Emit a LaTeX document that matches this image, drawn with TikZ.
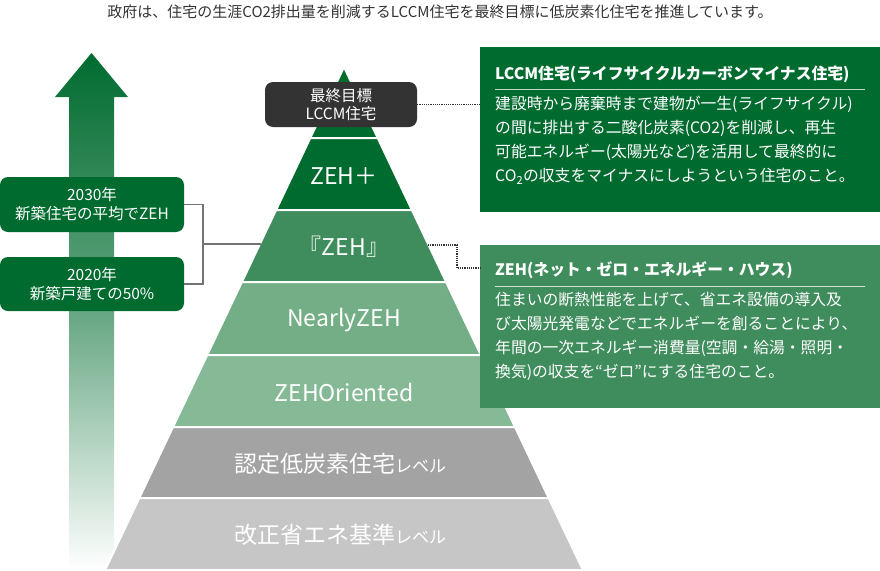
\documentclass[tikz,border=0pt]{standalone}
\usepackage{fontspec}
\setmainfont{Noto Sans CJK JP}
\begin{document}
\definecolor{dg}{HTML}{006B2F}
\definecolor{mg}{HTML}{3F8C5C}
\definecolor{lg1}{HTML}{74AE86}
\definecolor{lg2}{HTML}{86B995}
\definecolor{g1}{HTML}{A3A3A3}
\definecolor{g2}{HTML}{C6C6C6}
\definecolor{dk}{HTML}{333333}
\begin{tikzpicture}[x=1pt,y=-1pt,
 band/.style={draw=white,line width=2pt,line join=round},
 plab/.style={text=white,font=\fontsize{23}{25}\selectfont},
 lbox/.style={fill=dg,rounded corners=8pt,text=white,align=center,font=\fontsize{15.5}{19}\selectfont,inner sep=0pt},
 info/.style={text=white,align=left,anchor=north west,font=\fontsize{15.8}{24}\selectfont,inner sep=0pt},
 ihead/.style={text=white,anchor=west,font=\bfseries\fontsize{15.8}{18}\selectfont,inner sep=0pt},
 dots/.style={dk,densely dotted,line width=1.2pt},
 brk/.style={draw=gray!90!black,line width=1.5pt}]
\useasboundingbox (0,0) rectangle (880,570);
\node[text=dk,font=\fontsize{15}{17}\selectfont] (title) at (440,12) {政府は、住宅の生涯CO2排出量を削減するLCCM住宅を最終目標に低炭素化住宅を推進しています。};
% arrow
\shade[top color=dg,bottom color=white,middle color=dg!60] (91.5,53) -- (128,97) -- (114,97) -- (114,570) -- (69,570) -- (69,97) -- (55,97) -- cycle;
\coordinate (arr) at (91.5,53);
% pyramid
\fill[dg,band] (344,67) -- (377.7,138) -- (310.3,138) -- cycle;
\fill[dg,band] (310.3,138) -- (377.7,138) -- (411.9,210) -- (276.1,210) -- cycle;
\fill[mg,band] (276.1,210) -- (411.9,210) -- (446.1,282) -- (241.9,282) -- cycle;
\fill[lg1,band] (241.9,282) -- (446.1,282) -- (480.8,355) -- (207.2,355) -- cycle;
\fill[lg2,band] (207.2,355) -- (480.8,355) -- (515,427) -- (173,427) -- cycle;
\fill[g1,band] (173,427) -- (515,427) -- (548.7,498) -- (139.3,498) -- cycle;
\fill[g2,band] (139.3,498) -- (548.7,498) -- (582.9,570) -- (105.1,570) -- cycle;
\node[plab] (p1) at (344,176) {ZEH＋};
\node[plab] (p2) at (344,247) {『ZEH』};
\node[plab] (p3) at (344,320) {NearlyZEH};
\node[plab] (p4) at (344,392) {ZEHOriented};
\node[plab] (p5) at (340,464) {認定低炭素住宅{\fontsize{17}{19}\selectfont レベル}};
\node[plab] (p6) at (340,535) {改正省エネ基準{\fontsize{17}{19}\selectfont レベル}};
\node[fill=dk,rounded corners=8pt,minimum width=152pt,minimum height=45pt,text=white,align=center,inner sep=0pt,font=\fontsize{15.5}{18}\selectfont] (goal) at (341,104.5) {最終目標\\LCCM住宅};
% left boxes
\node[lbox,minimum width=184pt,minimum height=55pt] (b1) at (92,204.5) {2030年\\新築住宅の平均でZEH};
\node[lbox,minimum width=184pt,minimum height=54pt] (b2) at (92,284) {2020年\\新築戸建ての50\%};
\coordinate (e1) at (203,204.5);
\coordinate (e2) at (203,284);
\coordinate (em) at (203,244);
\coordinate (pz) at (261,244);
\draw[brk] (b1.east) -- (e1) -- (e2) -- (b2.east);
\draw[brk] (em) -- (pz);
% right boxes
\node[fill=dg,minimum width=400pt,minimum height=165pt,anchor=north west,inner sep=0pt] (r1) at (480,47) {};
\node[fill=mg,minimum width=400pt,minimum height=163pt,anchor=north west,inner sep=0pt] (r2) at (480,245) {};
\node[ihead] (h1) at (495,74) {LCCM住宅(ライフサイクルカーボンマイナス住宅)};
\draw[white!75!dg,line width=0.8pt] (495,89) -- (865,89);
\node[info] (t1) at (495,96) {建設時から廃棄時まで建物が一生(ライフサイクル)\\の間に排出する二酸化炭素(CO2)を削減し、再生\\可能エネルギー(太陽光など)を活用して最終的に\\CO\textsubscript{2}の収支をマイナスにしようという住宅のこと。};
\node[ihead] (h2) at (495,270) {ZEH(ネット・ゼロ・エネルギー・ハウス)};
\draw[white!75!mg,line width=0.8pt] (495,286) -- (865,286);
\node[info] (t2) at (495,292) {住まいの断熱性能を上げて、省エネ設備の導入及\\び太陽光発電などでエネルギーを創ることにより、\\年間の一次エネルギー消費量(空調・給湯・照明・\\換気)の収支を“ゼロ”にする住宅のこと。};
% dotted connectors
\draw[dots] (goal.east) -- (r1.west |- goal.east);
\coordinate (d1) at (428,245);
\coordinate (d2) at (457,245);
\coordinate (d3) at (457,268);
\draw[dots] (d1) -- (d2) -- (d3) -- (r2.west |- d3);
\end{tikzpicture}
\end{document}
